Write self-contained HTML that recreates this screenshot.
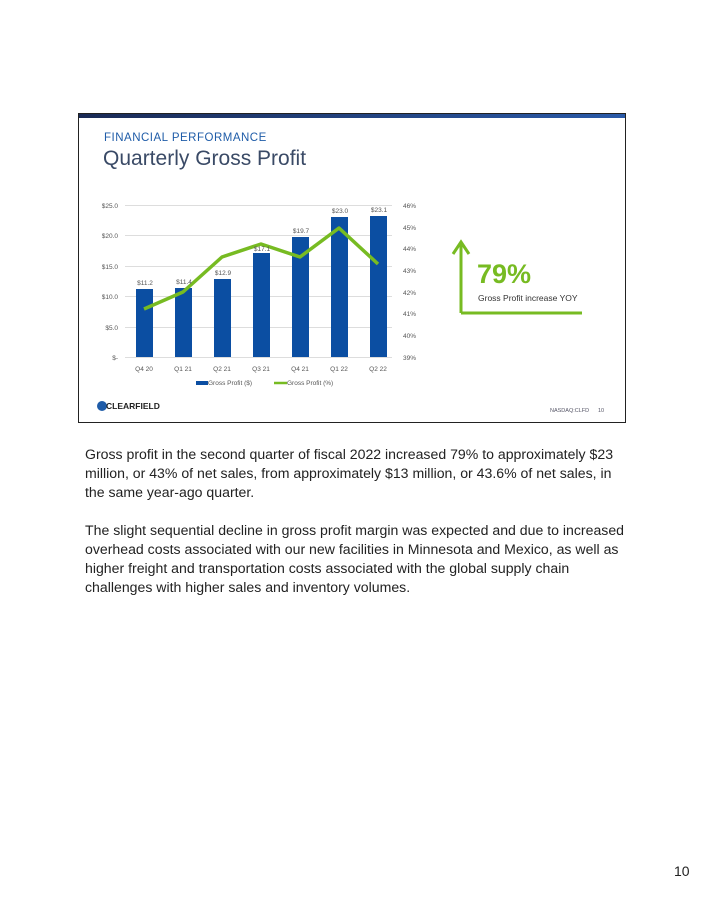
<!DOCTYPE html>
<html><head><meta charset="utf-8"><style>
body{margin:0;background:#fff;width:704px;height:911px;position:relative;font-family:"Liberation Sans",sans-serif;}
.slide{position:absolute;left:78px;top:113px;width:548px;height:310px;border:1px solid #222;box-sizing:border-box;background:#fff;}
.bar{position:absolute;left:0;top:0;width:100%;height:4px;background:linear-gradient(90deg,#1a2a55,#2a5aa8);}
.t{position:absolute;white-space:nowrap;}
p{margin:0;}
</style></head><body>
<div class="slide"><div class="bar"></div></div>
<div class="t" style="left:104px;top:132px;font-size:11.5px;color:#1f5ca8;letter-spacing:0.5px;">FINANCIAL PERFORMANCE</div>
<div class="t" style="left:103px;top:147px;font-size:21px;color:#3a4a66;">Quarterly Gross Profit</div>
<svg style="position:absolute;left:0;top:0" width="704" height="911">
<g stroke="#ddd" stroke-width="1">
<line x1="125" x2="392" y1="205.5" y2="205.5"/><line x1="125" x2="392" y1="235.5" y2="235.5"/><line x1="125" x2="392" y1="266.5" y2="266.5"/><line x1="125" x2="392" y1="296.5" y2="296.5"/><line x1="125" x2="392" y1="327.5" y2="327.5"/><line x1="125" x2="392" y1="357.5" y2="357.5"/>
</g>
<g fill="#0b4ea2">
<rect x="136" y="289" width="17" height="68"/><rect x="175" y="288" width="17" height="69"/><rect x="214" y="279" width="17" height="78"/><rect x="253" y="253" width="17" height="104"/><rect x="292" y="237" width="17" height="120"/><rect x="331" y="217" width="17" height="140"/><rect x="370" y="216" width="17" height="141"/>
</g>
<polyline points="144,309 183,292 222,257 261,244 300,257 339,228 378,264" fill="none" stroke="#77bb22" stroke-width="3.5" stroke-linejoin="round"/>
<g font-size="6.5" fill="#555" font-family="Liberation Sans,sans-serif">
<g text-anchor="end"><text x="118" y="208">$25.0</text><text x="118" y="238">$20.0</text><text x="118" y="269">$15.0</text><text x="118" y="299">$10.0</text><text x="118" y="330">$5.0</text><text x="118" y="360">$-</text></g>
<text x="403" y="208">46%</text><text x="403" y="230">45%</text><text x="403" y="251">44%</text><text x="403" y="273">43%</text><text x="403" y="295">42%</text><text x="403" y="316">41%</text><text x="403" y="338">40%</text><text x="403" y="360">39%</text>
<g text-anchor="middle"><text x="144" y="371">Q4 20</text><text x="183" y="371">Q1 21</text><text x="222" y="371">Q2 21</text><text x="261" y="371">Q3 21</text><text x="300" y="371">Q4 21</text><text x="339" y="371">Q1 22</text><text x="378" y="371">Q2 22</text>
<text x="145" y="285">$11.2</text><text x="184" y="284">$11.4</text><text x="223" y="275">$12.9</text><text x="262" y="251">$17.1</text><text x="301" y="233">$19.7</text><text x="340" y="213">$23.0</text><text x="379" y="212">$23.1</text></g>
<rect x="196" y="381" width="12" height="4" fill="#0b4ea2"/><text x="208" y="385">Gross Profit ($)</text>
<line x1="274" x2="287" y1="383" y2="383" stroke="#77bb22" stroke-width="2.5"/><text x="287" y="385">Gross Profit (%)</text>
</g>
<path d="M461,313 L461,243 M453,254 L461,242 L469,254 M461,313 L582,313" fill="none" stroke="#77bb22" stroke-width="3"/>
<text x="477" y="283" font-size="27" font-weight="bold" fill="#77bb22" font-family="Liberation Sans,sans-serif">79%</text>
<text x="478" y="301" font-size="8.5" fill="#333" font-family="Liberation Sans,sans-serif">Gross Profit increase YOY</text>
<circle cx="102" cy="406" r="5" fill="#1f5ca8"/>
<text x="106" y="409" font-size="8.5" font-weight="bold" fill="#222" font-family="Liberation Sans,sans-serif">CLEARFIELD</text>
<text x="550" y="412" font-size="5.5" fill="#556" font-family="Liberation Sans,sans-serif">NASDAQ:CLFD</text>
<text x="598" y="412" font-size="5.5" fill="#556" font-family="Liberation Sans,sans-serif">10</text>
</svg>
<div class="t" style="left:85px;top:445px;font-size:14.1px;line-height:19px;color:#222;">
<p>Gross profit in the second quarter of fiscal 2022 increased 79% to approximately $23<br>million, or 43% of net sales, from approximately $13 million, or 43.6% of net sales, in<br>the same year-ago quarter.</p>
<p style="margin-top:19px">The slight sequential decline in gross profit margin was expected and due to increased<br>overhead costs associated with our new facilities in Minnesota and Mexico, as well as<br>higher freight and transportation costs associated with the global supply chain<br>challenges with higher sales and inventory volumes.</p>
</div>
<div class="t" style="left:674px;top:863px;font-size:14px;color:#222;">10</div>
</body></html>
